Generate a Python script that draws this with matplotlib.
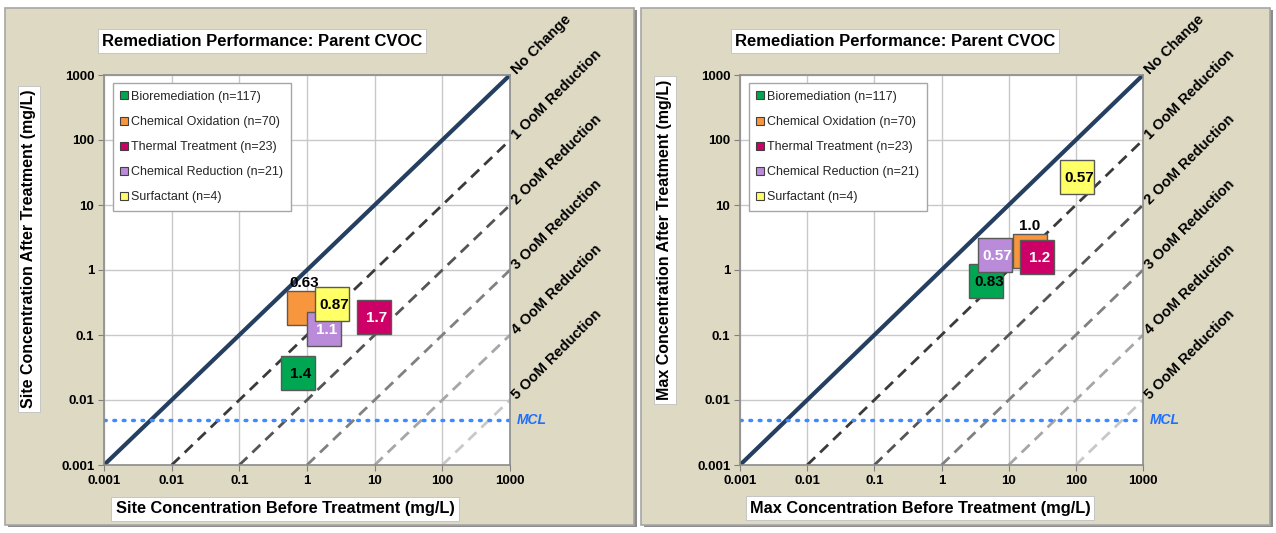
import matplotlib.pyplot as plt
import numpy as np
from matplotlib.patches import Rectangle

W, H = 1276, 533

series_names = [
    "Bioremediation (n=117)",
    "Chemical Oxidation (n=70)",
    "Thermal Treatment (n=23)",
    "Chemical Reduction (n=21)",
    "Surfactant (n=4)",
]
series_colors = ["#00A651", "#F7963C", "#CC0066", "#B98BD9", "#FFFF66"]
label_colors = ["black", "black", "white", "white", "black"]

# site concentrations (mg/L)
site_before = [0.73, 0.90, 9.7, 1.78, 2.33]
site_after = [0.026, 0.26, 0.19, 0.124, 0.30]
site_labels = ["1.4", "0.63", "1.7", "1.1", "0.87"]

# max concentrations (mg/L)
max_before = [4.6, 20.7, 26.0, 6.2, 103.0]
max_after = [0.68, 1.96, 1.58, 1.70, 27.0]
max_labels = ["0.83", "1.0", "1.2", "0.57", "0.57"]

oom_levels = [0, 1, 2, 3, 4, 5]
oom_names = ["No Change", "1 OoM Reduction", "2 OoM Reduction",
             "3 OoM Reduction", "4 OoM Reduction", "5 OoM Reduction"]
oom_colors = ["#243F60", "#3A3A3A", "#555555", "#808080", "#A6A6A6", "#C8C8C8"]
mcl = 0.005
ticks = [0.001, 0.01, 0.1, 1, 10, 100, 1000]
tick_labels = ["0.001", "0.01", "0.1", "1", "10", "100", "1000"]

plt.rcParams["font.family"] = ["Liberation Sans", "DejaVu Sans"]

fig = plt.figure(figsize=(W / 100, H / 100), dpi=100)
fig.patch.set_facecolor("white")


def fx(x):
    return x / W


def fy(y):
    return 1 - y / H


def add_panel(x0, x1, y0, y1):
    # drop shadow then panel, kept behind the axes
    fig.patches.append(Rectangle((fx(x0 + 3), fy(y1 + 2)), fx(x1 - x0), (y1 - y0) / H,
                                 transform=fig.transFigure, facecolor="#8C8C8C",
                                 edgecolor="none", zorder=-2))
    fig.patches.append(Rectangle((fx(x0), fy(y1)), fx(x1 - x0), (y1 - y0) / H,
                                 transform=fig.transFigure, facecolor="#DDD9C3",
                                 edgecolor="#A6A6A6", linewidth=1.2, zorder=-1))


def box_text(x, y, s, size, **kw):
    fig.text(fx(x), fy(y), s, ha="center", va="center", fontsize=size,
             fontweight="bold", color="black", zorder=5,
             bbox=dict(boxstyle="square,pad=0.25", facecolor="white",
                       edgecolor="#BFBFBF", linewidth=0.6), **kw)


def draw_chart(ax, xs, ys, labels):
    ax.set_xscale("log")
    ax.set_yscale("log")
    ax.set_xlim(0.001, 1000)
    ax.set_ylim(0.001, 1000)
    ax.set_facecolor("white")
    ax.grid(True, which="major", color="#C8C8C8", linewidth=1)
    ax.set_axisbelow(True)
    ax.minorticks_off()
    ax.set_xticks(ticks)
    ax.set_xticklabels(tick_labels)
    ax.set_yticks(ticks)
    ax.set_yticklabels(tick_labels)
    ax.tick_params(length=4, color="#808080", labelsize=9.5, pad=3)
    for lab in ax.get_xticklabels() + ax.get_yticklabels():
        lab.set_fontweight("bold")
    for sp in ax.spines.values():
        sp.set_color("#8C8C8C")
        sp.set_linewidth(1.2)

    for k, name, col in zip(oom_levels, oom_names, oom_colors):
        x = np.array([0.001 * 10 ** k, 1000])
        y = x / 10 ** k
        if k == 0:
            ax.plot(x, y, color=col, linewidth=3, solid_capstyle="butt", zorder=2)
        else:
            ax.plot(x, y, color=col, linewidth=2, linestyle=(0, (4, 2.5)), zorder=2)
        ax.annotate(name, xy=(1000, 1000 / 10 ** k), xytext=(3, 2),
                    textcoords="offset points", rotation=45, rotation_mode="anchor",
                    ha="left", va="center", fontsize=10.5, fontweight="bold",
                    annotation_clip=False)

    ax.axhline(mcl, color="#3C8CFF", linewidth=2.5, linestyle=(0, (0.5, 2.2)),
               dash_capstyle="round", zorder=2)
    ax.annotate("MCL", xy=(1000, mcl), xytext=(5, 0), textcoords="offset points",
                ha="left", va="center", fontsize=10, fontweight="bold",
                fontstyle="italic", color="#1F6FFF", annotation_clip=False)

    for i in range(len(xs)):
        ax.plot(xs[i], ys[i], marker="s", markersize=25, color=series_colors[i],
                markeredgecolor="#595959", markeredgewidth=1, linestyle="none",
                label=series_names[i], zorder=3 + i)
        if i == 1:
            ax.annotate(labels[i], xy=(xs[i], ys[i]), xytext=(0, 13),
                        textcoords="offset points", ha="center", va="bottom",
                        fontsize=11, fontweight="bold", color="black", zorder=9)
        else:
            ax.annotate(labels[i], xy=(xs[i], ys[i]), xytext=(2, -1),
                        textcoords="offset points", ha="center", va="center",
                        fontsize=11, fontweight="bold", color=label_colors[i],
                        zorder=3 + i)

    handles = [plt.Line2D([], [], marker="s", markersize=6, color=c,
                          markeredgecolor="#404040", markeredgewidth=0.8,
                          linestyle="none") for c in series_colors]
    leg = ax.legend(handles, series_names, loc="upper left",
                    bbox_to_anchor=(0.015, 0.985), frameon=True, fancybox=False,
                    edgecolor="#A6A6A6", framealpha=1, fontsize=9,
                    labelspacing=1.05, handlelength=0.7, handletextpad=0.2,
                    borderpad=0.6, borderaxespad=0.2)
    leg.get_frame().set_linewidth(1)
    for t in leg.get_texts():
        t.set_color("#262626")
    leg.set_zorder(10)


add_panel(5, 634, 8, 525)
add_panel(641, 1270, 8, 525)

ax1 = fig.add_axes([fx(104), fy(465), fx(510 - 104), (465 - 75) / H])
draw_chart(ax1, site_before, site_after, site_labels)
ax2 = fig.add_axes([fx(740), fy(465), fx(1143 - 740), (465 - 75) / H])
draw_chart(ax2, max_before, max_after, max_labels)

box_text(262, 41, "Remediation Performance: Parent CVOC", 12)
box_text(895, 41, "Remediation Performance: Parent CVOC", 12)
box_text(285, 509, "Site Concentration Before Treatment (mg/L)", 11.8)
box_text(920, 508, "Max Concentration Before Treatment (mg/L)", 11.8)
box_text(29, 249, "Site Concentration After Treatment (mg/L)", 11.5, rotation=90)
box_text(665, 240, "Max Concentration After Treatment (mg/L)", 11.5, rotation=90)

fig.savefig("out.png", dpi=100, facecolor="white")
